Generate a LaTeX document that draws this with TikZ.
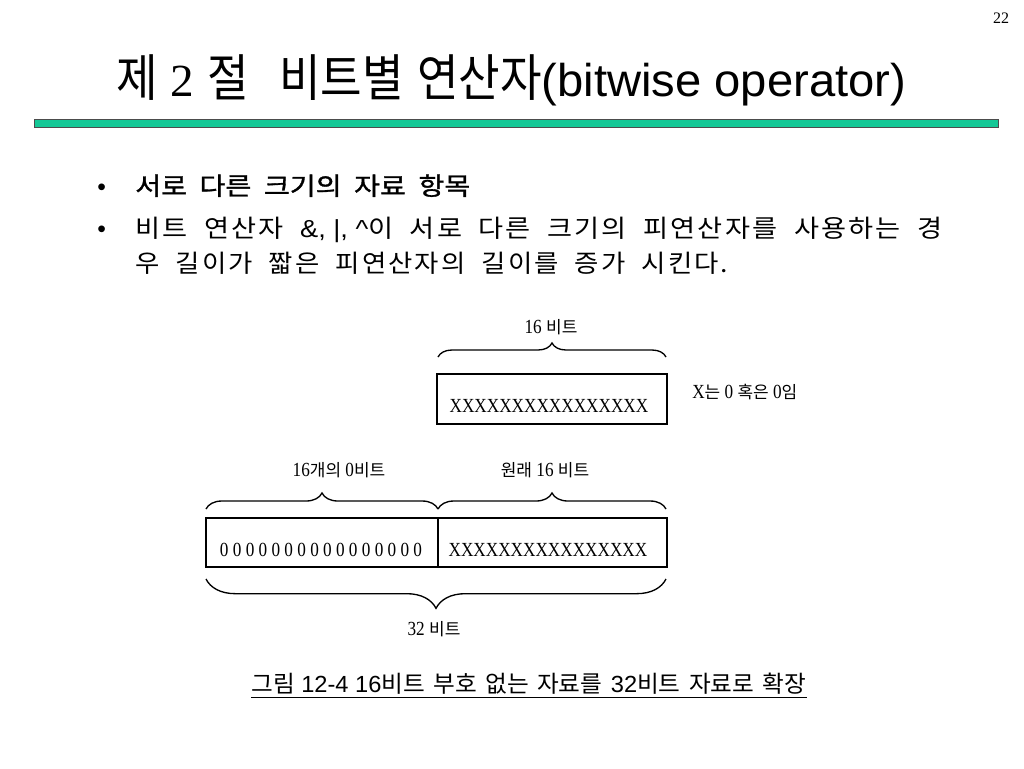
\documentclass[tikz,border=0pt]{standalone}
\usepackage{fontspec}
\usepackage{graphicx}
\usetikzlibrary{decorations.pathreplacing}
\setmainfont{Liberation Serif}
\newfontfamily\arialf{Liberation Sans}
\newfontfamily\krT[FakeStretch=0.87,Scale=1.1]{Noto Sans CJK KR}
\newfontfamily\krB[FakeBold=1.2,WordSpace=2]{Noto Sans CJK KR}
\newfontfamily\krL[LetterSpace=8,WordSpace=2]{Noto Sans CJK KR}
\newfontfamily\krC[WordSpace=1.6]{Noto Sans CJK KR}
\newfontfamily\serD[FakeStretch=0.86]{Liberation Serif}
\newfontfamily\krD[Scale=0.85]{Noto Sans CJK KR}
\newcommand{\fitw}[2]{\resizebox{#1}{\height}{#2}}
\definecolor{barteal}{RGB}{20,200,150}
\begin{document}
\begin{tikzpicture}[x=0.75pt,y=-0.75pt,
  bitbox/.style={draw=black,line width=1.5pt,inner sep=0pt},
  bitbrace/.style={decorate,line width=1pt},
  dlabel/.style={inner sep=0pt,font=\fontsize{15}{18}\serD},
  btext/.style={inner sep=0pt,anchor=base west,font=\fontsize{18.5}{22}\arialf}]
\useasboundingbox (0,0) rectangle (1024,768);
% page number
\node[inner sep=0pt,font=\fontsize{12}{14}\selectfont] (pg) at (1001,18) {22};
% title
\node[inner sep=0pt,anchor=base west,font=\fontsize{34.5}{40}\arialf] (title) at (116,96)
  {\fitw{592.5pt}{{\krT 제} {\rmfamily 2} {\krT 절}\hspace{22pt}{\krT 비트별} {\krT 연산자}(bitwise operator)}};
% bar
\node[draw=black!70,line width=0.6pt,fill=barteal,inner sep=0pt,minimum width=723pt,minimum height=6pt] (bar) at (516,123) {};
% bullets
\node[btext] (d1) at (97,195) {•};
\node[btext] (t1) at (135,195) {\fitw{251.25pt}{\krB 서로 다른 크기의 자료 항목}};
\node[btext] (d2) at (97,237) {•};
\node[btext] (t2) at (135,237) {\fitw{605.25pt}{{\krL 비트 연산자 }\&, |, \textasciicircum{\krL 이 서로 다른 크기의 피연산자를 사용하는 경}}};
\node[btext] (t3) at (135,272) {\fitw{444.75pt}{\krL 우 길이가 짧은 피연산자의 길이를 증가 시킨다.}};
% diagram
\node[dlabel] (l16) at (551,327) {16 {\krD 비트}};
\node[bitbox,minimum width=172.5pt,minimum height=37.5pt] (b1) at (552,399) {};
\node[dlabel] (x1) at (549,406) {XXXXXXXXXXXXXXXX};
\node[dlabel,anchor=west] (note) at (692,392) {X{\krD 는} 0 {\krD 혹은} 0{\krD 임}};
\node[dlabel] (lz) at (339,470) {16{\krD 개의} 0{\krD 비트}};
\node[dlabel] (lo) at (545,470) {{\krD 원래} 16 {\krD 비트}};
\node[bitbox,minimum width=174pt,minimum height=36.75pt] (b2) at (322,542.5) {};
\node[bitbox,minimum width=171.75pt,minimum height=36.75pt] (b3) at (552.5,542.5) {};
\node[dlabel] (z2) at (321,550) {0 0 0 0 0 0 0 0 0 0 0 0 0 0 0 0};
\node[dlabel] (x3) at (548,550) {XXXXXXXXXXXXXXXX};
\node[dlabel] (l32) at (434,629) {32 {\krD 비트}};
% braces
\coordinate (t1a) at (438,357); \coordinate (t1b) at (666,357);
\coordinate (m1a) at (206,509); \coordinate (m1b) at (438,509); \coordinate (m1c) at (666,509);
\coordinate (u1a) at (666,579); \coordinate (u1b) at (206,579);
\draw[bitbrace,decoration={brace,amplitude=10.5pt}] (t1a) -- (t1b);
\draw[bitbrace,decoration={brace,amplitude=12pt}] (m1a) -- (m1b);
\draw[bitbrace,decoration={brace,amplitude=12pt}] (m1b) -- (m1c);
\draw[bitbrace,decoration={brace,amplitude=22pt}] (u1a) -- (u1b);
% caption
\node[inner sep=0pt,anchor=base west,font=\fontsize{17.5}{20}\arialf] (cap) at (251,692)
  {\fitw{416.25pt}{{\krC 그림} 12-4 16{\krC 비트 부호 없는 자료를 }32{\krC 비트 자료로 확장}}};
\draw[line width=1pt] ([yshift=-4pt]cap.base west) -- ([yshift=-4pt]cap.base east);
\end{tikzpicture}
\end{document}
